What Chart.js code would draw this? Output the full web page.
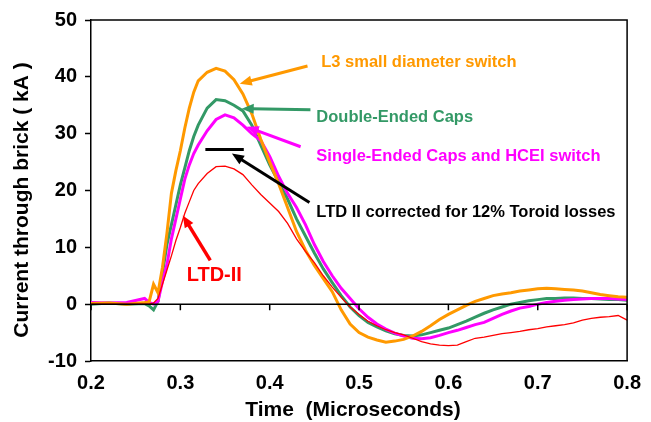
<!DOCTYPE html>
<html>
<head>
<meta charset="utf-8">
<script src="https://cdn.jsdelivr.net/npm/chart.js@4.4.0/dist/chart.umd.min.js"></script>
<style>
  html, body { margin: 0; padding: 0; background: #fff; }
  #wrap { width: 651px; height: 422px; }
</style>
</head>
<body>
<div id="wrap"><canvas id="c" width="651" height="422"></canvas></div>
<script>
/* ── Data (time in microseconds, current in kA) ── */
const timeUs = [
  0.20, 0.22, 0.24, 0.26,
  0.265, 0.27, 0.275, 0.28, 0.285, 0.29, 0.295, 0.30, 0.305, 0.31, 0.315,
  0.32, 0.33, 0.34, 0.35, 0.36, 0.37, 0.38, 0.39, 0.40, 0.41,
  0.42, 0.43, 0.44, 0.45, 0.46, 0.47, 0.48, 0.49, 0.50, 0.51,
  0.52, 0.53, 0.54, 0.55, 0.56, 0.57, 0.58, 0.59, 0.60, 0.61,
  0.62, 0.63, 0.64, 0.65, 0.66, 0.67, 0.68, 0.69, 0.70, 0.71,
  0.72, 0.73, 0.74, 0.75, 0.76, 0.77, 0.78, 0.79, 0.80
];
const l3Switch = [
  0.1, 0.2, 0.0, 0.3,
  0.4, 3.5, 2.0, 6.5, 12.5, 19.5, 23.5, 27.0, 31.0, 34.5, 37.3,
  39.3, 40.8, 41.5, 41.0, 39.5, 37.0, 33.5, 29.0, 25.0, 21.2,
  17.0, 12.8, 9.5, 6.8, 4.5, 2.2, -1.0, -3.5, -5.0, -5.8,
  -6.3, -6.7, -6.5, -6.2, -5.6, -4.8, -3.8, -2.7, -1.8, -1.0,
  -0.2, 0.5, 1.0, 1.5, 1.8, 2.0, 2.3, 2.5, 2.7, 2.8,
  2.7, 2.6, 2.5, 2.3, 2.0, 1.7, 1.5, 1.3, 1.2
];
const doubleEnded = [
  0.0, 0.2, 0.0, 0.1,
  -0.3, -1.0, 0.5, 5.5, 10.5, 14.0, 17.5, 21.0, 24.0, 27.0, 29.5,
  31.5, 34.5, 36.0, 35.8, 35.0, 34.0, 31.5, 28.0, 24.5, 21.5,
  18.5, 15.0, 12.0, 9.0, 6.2, 3.8, 1.5, -0.5, -2.0, -3.2,
  -4.0, -4.7, -5.2, -5.5, -5.6, -5.4, -5.0, -4.6, -4.2, -3.6,
  -3.0, -2.3, -1.6, -1.0, -0.5, 0.0, 0.3, 0.6, 0.8, 1.0,
  1.0, 1.1, 1.1, 1.0, 1.0, 0.9, 0.8, 0.8, 0.7
];
const singleEnded = [
  0.3, 0.2, 0.3, 1.0,
  0.3, 0.0, 0.5, 4.0, 7.0, 11.5, 15.0, 18.5, 22.0, 24.5, 26.5,
  28.0, 30.5, 32.5, 33.3, 32.8, 31.5, 30.0, 28.8, 26.0, 22.5,
  19.5, 17.0, 14.0, 10.5, 7.5, 5.0, 2.8, 1.0, -0.8, -2.3,
  -3.5, -4.4, -5.1, -5.6, -6.0, -6.1, -5.9, -5.5, -5.0, -4.6,
  -4.1, -3.6, -3.2, -2.5, -1.8, -1.2, -0.7, -0.4, 0.0, 0.3,
  0.5, 0.7, 0.8, 0.9, 1.0, 1.0, 1.0, 0.9, 0.8
];
const ltdII = [
  0.0, 0.0, 0.0, 0.0,
  0.0, 0.2, 1.0, 3.5, 6.0, 8.5, 11.2, 13.5, 16.0, 18.0, 20.0,
  21.2, 23.0, 24.2, 24.3, 23.8, 22.8, 21.0, 19.3, 17.8, 16.3,
  14.2, 11.5, 9.3, 7.3, 5.0, 3.0, 1.2, -0.5, -1.8, -3.0,
  -3.8, -4.5, -5.0, -5.4, -6.0, -6.6, -7.0, -7.2, -7.3, -7.2,
  -6.6, -6.0, -5.8, -5.5, -5.2, -5.0, -4.8, -4.5, -4.3, -4.0,
  -3.8, -3.6, -3.3, -2.8, -2.5, -2.3, -2.2, -2.0, -2.8
];
/* corrected LTD II peak level (flat bar) */
const correctedSpan = [0.328, 0.371];
const correctedLevel = 27.2;

const xTicks = [0.2, 0.3, 0.4, 0.5, 0.6, 0.7, 0.8];
const yTicks = [-10, 0, 10, 20, 30, 40, 50];

/* ── Styling ── */
const ORANGE = '#FF9900';
const GREEN = '#339966';
const MAGENTA = '#FF00FF';
const RED = '#FF0000';
const FONT = '"Liberation Sans", Arial, Helvetica, sans-serif';

/* callouts: text anchor + arrow in data coords */
const callouts = [
  { text: 'L3 small diameter switch', color: ORANGE, size: 16.5, tx: 0.4577, ty: 42.6,
    from: [0.4423, 41.9], to: [0.3665, 38.8], lw: 3 },
  { text: 'Double-Ended Caps', color: GREEN, size: 16.5, tx: 0.4522, ty: 32.8,
    from: [0.4456, 34.2], to: [0.3687, 34.4], lw: 3 },
  { text: 'Single-Ended Caps and HCEI switch', color: MAGENTA, size: 16.5, tx: 0.4522, ty: 26.0,
    from: [0.4346, 27.7], to: [0.3742, 31.2], lw: 3 },
  { text: 'LTD II corrected for 12% Toroid losses', color: '#000', size: 16.5, tx: 0.4522, ty: 16.1,
    from: [0.4445, 17.9], to: [0.3577, 26.5], lw: 3 },
  { text: 'LTD-II', color: RED, size: 20, tx: 0.3071, ty: 5.1,
    from: [0.3335, 7.7], to: [0.3027, 15.6], lw: 3.5 },
];

const pts = ys => timeUs.map((t, i) => ({ x: t, y: ys[i] }));

function arrow(ctx, x1, y1, x2, y2, color, lw) {
  const ang = Math.atan2(y2 - y1, x2 - x1);
  const head = 12, half = 5;
  ctx.strokeStyle = color;
  ctx.fillStyle = color;
  ctx.lineWidth = lw;
  ctx.beginPath();
  ctx.moveTo(x1, y1);
  ctx.lineTo(x2 - Math.cos(ang) * head * 0.8, y2 - Math.sin(ang) * head * 0.8);
  ctx.stroke();
  ctx.beginPath();
  ctx.moveTo(x2, y2);
  ctx.lineTo(x2 - Math.cos(ang) * head + Math.sin(ang) * half, y2 - Math.sin(ang) * head - Math.cos(ang) * half);
  ctx.lineTo(x2 - Math.cos(ang) * head - Math.sin(ang) * half, y2 - Math.sin(ang) * head + Math.cos(ang) * half);
  ctx.closePath();
  ctx.fill();
}

const decorations = {
  id: 'decorations',
  afterDatasetsDraw(chart) {
    const { ctx, chartArea: a, scales: { x, y } } = chart;
    ctx.save();
    // frame top/right
    ctx.strokeStyle = '#000';
    ctx.lineWidth = 1.5;
    ctx.beginPath();
    ctx.moveTo(a.left, a.top); ctx.lineTo(a.right, a.top); ctx.lineTo(a.right, a.bottom);
    ctx.stroke();
    // zero line with ticks
    const y0 = y.getPixelForValue(0);
    ctx.beginPath();
    ctx.moveTo(a.left, y0); ctx.lineTo(a.right, y0);
    xTicks.forEach(t => {
      const px = x.getPixelForValue(t);
      ctx.moveTo(px, y0); ctx.lineTo(px, y0 + 6);
    });
    ctx.stroke();
    // corrected bar
    ctx.lineWidth = 3;
    ctx.beginPath();
    ctx.moveTo(x.getPixelForValue(correctedSpan[0]), y.getPixelForValue(correctedLevel));
    ctx.lineTo(x.getPixelForValue(correctedSpan[1]), y.getPixelForValue(correctedLevel));
    ctx.stroke();
    // callouts
    callouts.forEach(c => {
      arrow(ctx, x.getPixelForValue(c.from[0]), y.getPixelForValue(c.from[1]),
        x.getPixelForValue(c.to[0]), y.getPixelForValue(c.to[1]), c.color, c.lw);
      ctx.fillStyle = c.color;
      ctx.font = `bold ${c.size}px ${FONT}`;
      ctx.textAlign = 'left';
      ctx.textBaseline = 'middle';
      ctx.fillText(c.text, x.getPixelForValue(c.tx), y.getPixelForValue(c.ty));
    });
    // axis titles
    ctx.fillStyle = '#000';
    ctx.font = `bold 21px ${FONT}`;
    ctx.textAlign = 'center';
    ctx.textBaseline = 'middle';
    ctx.fillText('Time  (Microseconds)', 353, 410);
    ctx.translate(22, 200);
    ctx.rotate(-Math.PI / 2);
    ctx.fillText('Current through brick ( kA )', 0, 0);
    ctx.restore();
  }
};

new Chart(document.getElementById('c'), {
  type: 'line',
  data: {
    datasets: [
      { label: 'LTD-II', data: pts(ltdII), borderColor: RED, borderWidth: 1.3, order: 1 },
      { label: 'L3 small diameter switch', data: pts(l3Switch), borderColor: ORANGE, borderWidth: 3, order: 2 },
      { label: 'Single-Ended Caps and HCEI switch', data: pts(singleEnded), borderColor: MAGENTA, borderWidth: 3, order: 3 },
      { label: 'Double-Ended Caps', data: pts(doubleEnded), borderColor: GREEN, borderWidth: 3, order: 4 },
    ],
  },
  options: {
    responsive: false,
    animation: false,
    events: [],
    layout: { padding: { left: 0, top: 19, right: 14, bottom: 0 } },
    elements: { point: { radius: 0 }, line: { tension: 0 } },
    plugins: { legend: { display: false }, tooltip: { enabled: false } },
    scales: {
      x: {
        type: 'linear', min: 0.2, max: 0.8,
        afterBuildTicks: s => { s.ticks = xTicks.map(v => ({ value: v })); },
        afterFit: s => { s.height = 61; },
        grid: { display: false, drawTicks: false },
        border: { display: true, color: '#000', width: 1.5 },
        ticks: { color: '#000', padding: 10, font: { family: FONT, size: 20, weight: 'bold' },
          callback: v => v.toFixed(1) },
      },
      y: {
        min: -10, max: 50,
        afterBuildTicks: s => { s.ticks = yTicks.map(v => ({ value: v })); },
        afterFit: s => { s.width = 91; },
        grid: { drawOnChartArea: false, drawTicks: true, tickLength: 6, tickColor: '#000', tickWidth: 1.5 },
        border: { display: true, color: '#000', width: 1.5 },
        ticks: { color: '#000', padding: 8, font: { family: FONT, size: 20, weight: 'bold' } },
      },
    },
  },
  plugins: [decorations],
});
</script>
</body>
</html>
